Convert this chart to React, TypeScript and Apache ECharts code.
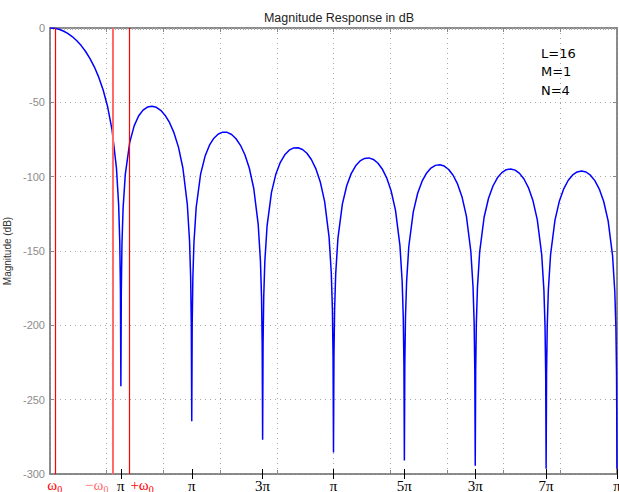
import React, { useEffect, useRef } from "react";
import * as echarts from "echarts";

// Frequency grid: bins of pi/128 (x axis is in units of pi rad/sample)
const BINS_PER_PI = 128;

const freqBins: number[] = [
  0, 1, 2, 3, 4, 5, 6, 7, 8, 9, 10, 11, 12, 13, 14, 15, 15.5, 15.75, 15.9,
  16, 16.1, 16.25, 16.5, 17, 18, 19, 20, 21, 22, 23, 24, 25, 26, 27, 28, 29, 30, 31, 31.5, 31.75, 31.9,
  32, 32.1, 32.25, 32.5, 33, 34, 35, 36, 37, 38, 39, 40, 41, 42, 43, 44, 45, 46, 47, 47.5, 47.75, 47.9,
  48, 48.1, 48.25, 48.5, 49, 50, 51, 52, 53, 54, 55, 56, 57, 58, 59, 60, 61, 62, 63, 63.5, 63.75, 63.9,
  64, 64.1, 64.25, 64.5, 65, 66, 67, 68, 69, 70, 71, 72, 73, 74, 75, 76, 77, 78, 79, 79.5, 79.75, 79.9,
  80, 80.1, 80.25, 80.5, 81, 82, 83, 84, 85, 86, 87, 88, 89, 90, 91, 92, 93, 94, 95, 95.5, 95.75, 95.9,
  96, 96.1, 96.25, 96.5, 97, 98, 99, 100, 101, 102, 103, 104, 105, 106, 107, 108, 109, 110, 111, 111.5, 111.75, 111.9,
  112, 112.1, 112.25, 112.5, 113, 114, 115, 116, 117, 118, 119, 120, 121, 122, 123, 124, 125, 126, 127, 127.5, 127.75, 127.9,
  128,
];

const magnitudeDb: number[] = [
  0, -0.22, -0.89, -2.02, -3.63, -5.75, -8.41, -11.68, -15.63, -20.38, -26.11, -33.06, -41.69, -52.83, -68.33, -94.11, -119.17, -143.75, -175.89,
  -241, -176.33, -144.83, -121.33, -98.41, -76.95, -65.85, -59.22, -55.25, -53.16, -52.59, -53.36, -55.4, -58.8, -63.72, -70.57, -80.12, -94.19, -118.69, -143.15, -167.44, -199.42,
  -264.5, -199.62, -167.96, -144.18, -120.75, -98.32, -86.31, -78.85, -74.11, -71.31, -70.06, -70.2, -71.66, -74.5, -78.9, -85.25, -94.33, -107.97, -132.04, -156.29, -180.49, -212.41,
  -277, -212.53, -180.81, -156.93, -133.32, -110.52, -98.17, -90.37, -85.31, -82.2, -80.66, -80.52, -81.7, -84.28, -88.43, -94.54, -103.38, -116.78, -140.64, -164.78, -188.92, -220.81,
  -285.5, -220.89, -189.14, -165.2, -141.49, -118.49, -105.94, -97.95, -92.7, -89.42, -87.7, -87.38, -88.4, -90.82, -94.81, -100.76, -109.45, -122.7, -146.41, -170.48, -194.59, -226.45,
  -291, -226.51, -194.73, -170.76, -146.98, -123.84, -111.16, -103.04, -97.66, -94.24, -92.4, -91.96, -92.86, -95.16, -99.03, -104.86, -113.44, -126.58, -150.18, -174.19, -198.28, -230.12,
  -294.5, -230.16, -198.36, -174.37, -150.53, -127.29, -114.5, -106.28, -100.8, -97.28, -95.34, -94.8, -95.6, -97.8, -101.57, -107.31, -115.8, -128.85, -152.35, -176.32, -200.38, -232.21,
  -296.5, -232.23, -200.42, -176.4, -152.52, -129.18, -116.31, -107.99, -102.42, -98.82, -96.79, -96.16, -96.87, -98.99, -102.67, -108.33, -116.73, -129.69, -153.11, -177.03, -201.07, -232.89,
  -296.5,
];

// pi/8 multiples (units of pi) and their visible numerators
const piTickValues = [0.125, 0.25, 0.375, 0.5, 0.625, 0.75, 0.875, 1];
const piTickLabels = ["π", "π", "3π", "π", "5π", "3π", "7π", "π"];

// omega markers (units of pi)
const markerFreqs = [0.0076, 0.1109, 0.1374];
const markerPrefixes = ["ω", "−ω", "+ω"];

const paramLines = ["L=16", "M=1", "N=4"];

const markerColors = ["#ff0000", "#ff6b6b", "#ff0000"];
const markerWidths = [1.2, 2, 1.2];
const markerAlign = ["center", "right", "left"];
const markerOffset = [0.5, -4.5, 2.5];

export default function App() {
  const ref = useRef<HTMLDivElement>(null);

  useEffect(() => {
    if (!ref.current) return;
    const chart = echarts.init(ref.current, null, { renderer: "svg" });
    const data = freqBins.map((b, i) => [b / BINS_PER_PI, magnitudeDb[i]]);
    const dotted = { color: "#a8a8a8", type: [1, 4] as number[], width: 1 };
    const axisGray = { color: "#666", width: 1.5 };

    const option: any = {
      animation: false,
      title: {
        text: "Magnitude Response in dB",
        left: 334,
        top: 6,
        textAlign: "center",
        textStyle: {
          fontSize: 12.5,
          fontWeight: "normal",
          color: "#222",
          fontFamily: "Liberation Sans",
        },
      },
      grid: {
        left: 50,
        right: 2,
        top: 28,
        height: 446,
        containLabel: false,
        outerBoundsMode: "none",
      },
      xAxis: [
        {
          type: "value",
          min: 0,
          max: 1,
          interval: 0.1,
          position: "bottom",
          axisLine: { show: true, onZero: false, lineStyle: axisGray },
          axisTick: { show: true, inside: true, length: 4, lineStyle: { color: "#888" } },
          axisLabel: { show: false },
          splitLine: { show: true, lineStyle: dotted },
        },
        {
          type: "value",
          min: 0,
          max: 1,
          position: "bottom",
          axisLine: { show: false, onZero: false },
          axisTick: {
            show: true,
            inside: false,
            length: 5,
            customValues: piTickValues,
            lineStyle: { color: "#000", width: 1 },
          },
          axisLabel: {
            show: true,
            customValues: piTickValues,
            margin: 4,
            color: "#000",
            fontSize: 15,
            fontFamily: "Liberation Serif",
            formatter: (v: number) => {
              const i = piTickValues.findIndex((t) => Math.abs(t - v) < 1e-6);
              return i >= 0 ? piTickLabels[i] : "";
            },
          },
          splitLine: { show: false },
        },
        {
          type: "value",
          min: 0,
          max: 1,
          position: "bottom",
          axisLine: { show: false, onZero: false },
          axisTick: {
            show: true,
            inside: true,
            length: 5,
            customValues: piTickValues,
            lineStyle: { color: "#000", width: 1 },
          },
          axisLabel: { show: false },
          splitLine: { show: false },
        },
        {
          type: "value",
          min: 0,
          max: 1,
          interval: 0.1,
          position: "top",
          axisLine: { show: true, onZero: false, lineStyle: axisGray },
          axisTick: { show: true, inside: true, length: 4, lineStyle: { color: "#888" } },
          minorTick: { show: true, splitNumber: 20, length: 2, lineStyle: { color: "#aaa" } },
          axisLabel: { show: false },
          splitLine: { show: false },
        },
      ],
      yAxis: [
        {
          type: "value",
          min: -300,
          max: 0,
          interval: 50,
          position: "left",
          name: "Magnitude (dB)",
          nameLocation: "middle",
          nameGap: 32,
          nameTextStyle: { fontSize: 10, color: "#333", fontFamily: "Liberation Sans" },
          axisLine: { show: true, onZero: false, lineStyle: axisGray },
          axisTick: { show: true, inside: true, length: 4, lineStyle: { color: "#888" } },
          axisLabel: { color: "#8c8c8c", fontSize: 11, fontFamily: "Liberation Sans", margin: 5 },
          splitLine: { show: true, lineStyle: dotted },
        },
        {
          type: "value",
          min: -300,
          max: 0,
          interval: 50,
          position: "right",
          axisLine: { show: true, onZero: false, lineStyle: axisGray },
          axisTick: { show: true, inside: true, length: 4, lineStyle: { color: "#888" } },
          axisLabel: { show: false },
          splitLine: { show: false },
        },
      ],
      series: [
        {
          type: "line",
          xAxisIndex: 0,
          yAxisIndex: 0,
          data,
          showSymbol: false,
          symbol: "none",
          clip: true,
          lineStyle: { color: "#0000ff", width: 1.5 },
          z: 3,
          markLine: {
            silent: true,
            symbol: ["none", "none"],
            label: { show: false },
            animation: false,
            data: markerFreqs.map((f, i) => ({
              xAxis: f,
              lineStyle: { color: markerColors[i], width: markerWidths[i], type: "solid", opacity: 1 },
            })),
          },
        },
      ],
    };
    chart.setOption(option);

    const graphics: any[] = markerFreqs.map((f, i) => {
      const px = chart.convertToPixel({ xAxisIndex: 0 }, f) as number;
      return {
        type: "text",
        x: px + markerOffset[i],
        y: 476,
        silent: true,
        style: {
          text: `{w|${markerPrefixes[i]}}{s|0}`,
          align: markerAlign[i],
          verticalAlign: "top",
          rich: {
            w: { fontSize: 15, fontFamily: "Liberation Serif", fill: markerColors[i], lineHeight: 18 },
            s: { fontSize: 10, fontFamily: "Liberation Serif", fill: markerColors[i], verticalAlign: "bottom" },
          },
        },
      };
    });
    graphics.push({
      type: "text",
      x: 541,
      y: 44,
      silent: true,
      style: {
        text: paramLines.join("\n"),
        fontSize: 13,
        fontFamily: "DejaVu Sans",
        lineHeight: 18.5,
        fill: "#000",
      },
    });
    chart.setOption({ graphic: graphics });

    return () => chart.dispose();
  }, []);

  return (
    <div
      ref={ref}
      style={{ position: "absolute", left: 0, top: 0, width: 619, height: 492 }}
    />
  );
}
